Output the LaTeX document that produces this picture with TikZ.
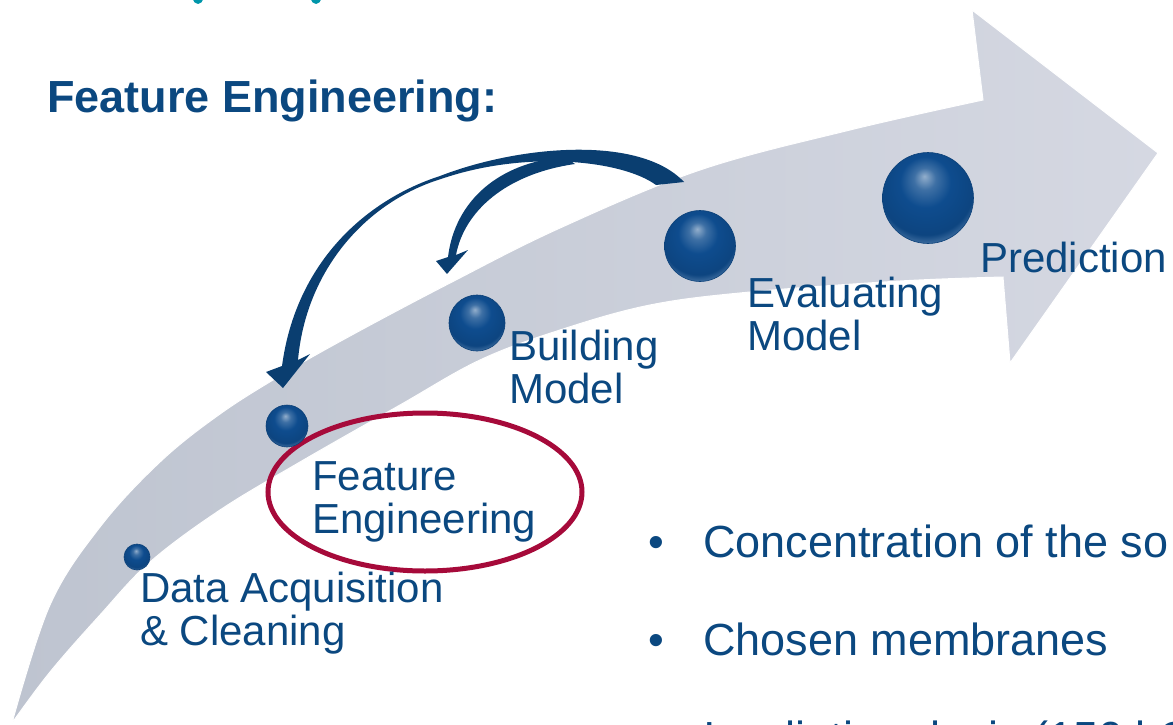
\documentclass[tikz,border=0pt]{standalone}
\usepackage{fontspec}
\setmainfont{Liberation Sans}
\usetikzlibrary{shapes.geometric}
\definecolor{txtblue}{RGB}{11,72,128}
\definecolor{arrowblue}{RGB}{10,62,112}
\definecolor{bandL}{RGB}{190,196,208}
\definecolor{bandR}{RGB}{213,216,226}
\definecolor{ringred}{RGB}{166,10,58}
\definecolor{sphereblue}{RGB}{14,76,142}
\definecolor{titleteal}{RGB}{0,150,170}
\pgfdeclareradialshading{glossy}{\pgfpoint{-2bp}{12bp}}{%
  color(0bp)=(sphereblue!45!white);
  color(6bp)=(sphereblue!80!white);
  color(14bp)=(sphereblue);
  color(26bp)=(sphereblue!90!black);
  color(33bp)=(sphereblue!65!white);
  color(50bp)=(sphereblue!65!white)}
\begin{document}
\begin{tikzpicture}[x=1pt,y=-1pt,
  lbl/.style={anchor=base west, inner sep=0pt, text=txtblue, font=\fontsize{42}{43.5}\selectfont},
  bul/.style={anchor=base west, inner sep=0pt, text=txtblue, font=\fontsize{45}{54}\selectfont},
  heading/.style={anchor=base west, inner sep=0pt, text=txtblue, font=\fontsize{45}{54}\selectfont\bfseries},
  sphere/.style={circle, inner sep=0pt, shading=glossy, draw=sphereblue!85!black, line width=0.6pt},
  ring/.style={ellipse, draw=ringred, line width=5pt, inner sep=0pt},
  loopback/.style={fill=arrowblue}
]
\useasboundingbox (0,0) rectangle (1173,725);
\clip (0,0) rectangle (1173,725);

% title fragments (cut off at the top)
\fill[titleteal] (198,-2) ellipse (5 and 6);
\fill[titleteal] (316,-2) ellipse (5 and 6);

% big curved process arrow
\shade[left color=bandL, right color=bandR, draw=white, line width=1pt]
  plot[smooth, tension=0.6] coordinates {(12,723) (50,605) (100,527) (160,462) (220,414) (283,374) (350,336) (450,283) (560,228) (700,170) (850,130) (983,100)}
  -- (972,10) -- (1158,153) -- (1010,363)
  -- plot[smooth, tension=0.6] coordinates {(1003,277) (900,281) (750,292) (650,305) (560,330) (480,360) (400,405) (300,462) (220,510) (150,562) (100,615) (50,672) (12,723)}
  -- cycle;

% loop-back arrows
\fill[loopback] (282,366) .. controls (296,262) and (366,200) .. (440,176)
  .. controls (520,145) and (640,135) .. (684,182) -- (656,185)
  .. controls (622,160) and (525,150) .. (441,179)
  .. controls (366,202) and (306,270) .. (298,360)
  -- (310,354) -- (283,388) -- (266,372) -- cycle;
\fill[loopback] (565,157) .. controls (500,162) and (455,200) .. (448,257)
  -- (436,261) -- (447,274) -- (468,250) -- (456,255)
  .. controls (464,212) and (505,174) .. (575,164) -- cycle;

% highlight ring
\node[ring, minimum width=314pt, minimum height=158pt] (ring) at (425,492) {};

% spheres
\node[sphere, minimum size=26pt] (s1) at (137,557) {};
\node[sphere, minimum size=42pt] (s2) at (287,426) {};
\node[sphere, minimum size=56pt] (s3) at (477,323) {};
\node[sphere, minimum size=71pt] (s4) at (700,246) {};
\node[sphere, minimum size=91pt] (s5) at (928,198) {};

% labels
\node[lbl] (l1) at (140,602) {\begin{tabular}[t]{@{}l@{}}Data Acquisition\\\& Cleaning\end{tabular}};
\node[lbl] (l2) at (312,490) {\begin{tabular}[t]{@{}l@{}}Feature\\Engineering\end{tabular}};
\node[lbl] (l3) at (509,360) {\begin{tabular}[t]{@{}l@{}}Building\\Model\end{tabular}};
\node[lbl] (l4) at (747,307) {\begin{tabular}[t]{@{}l@{}}Evaluating\\Model\end{tabular}};
\node[lbl] (l5) at (980,272) {Prediction};

\node[heading] (head) at (47,113) {Feature Engineering:};

% bullets
\node[bul] (b1) at (648,557) {•};
\node[bul] (t1) at (703,557) {Concentration of the so};
\node[bul] (b2) at (648,655) {•};
\node[bul] (t2) at (703,655) {Chosen membranes};
\node[bul] (b3) at (648,753) {•};
\node[bul] (t3) at (703,753) {Irradiation dosis (150 kGy)};
\end{tikzpicture}
\end{document}
